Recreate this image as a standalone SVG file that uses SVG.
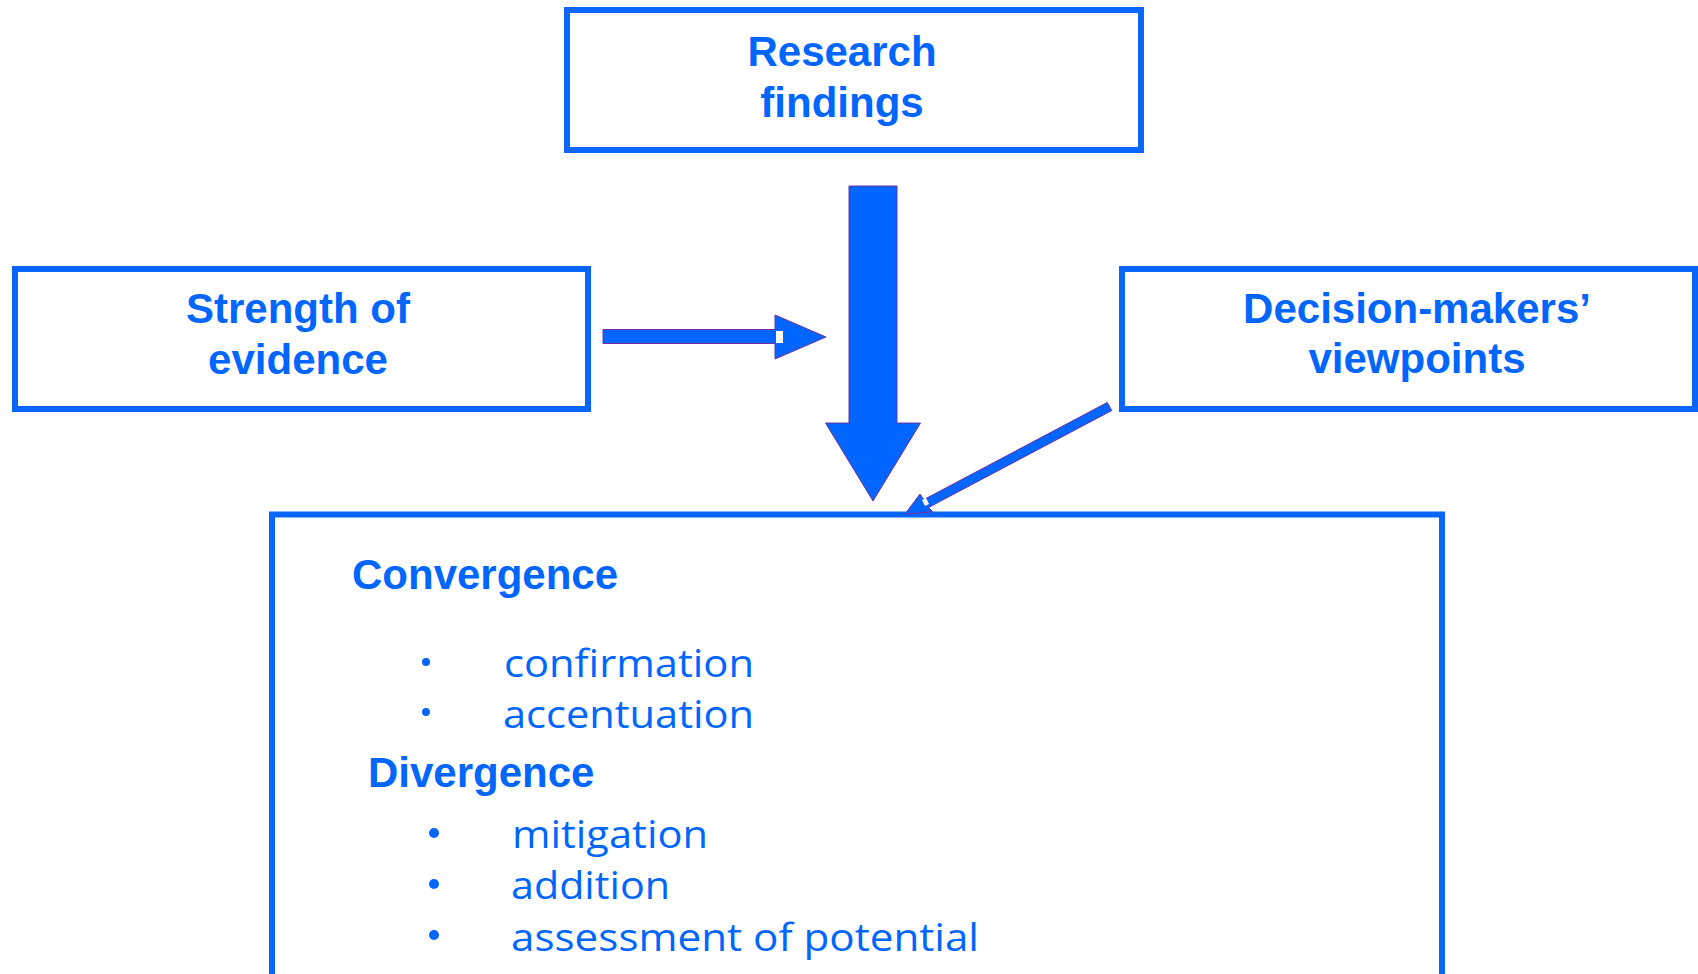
<svg xmlns="http://www.w3.org/2000/svg" width="1698" height="974" viewBox="0 0 1698 974">
<style>
.box{fill:none;stroke:#0A66FA;stroke-width:6}
.title{font-family:"Liberation Sans",Arial,sans-serif;font-weight:bold;font-size:42px;fill:#0066FF;text-anchor:middle}
.head{font-family:"Liberation Sans",Arial,sans-serif;font-weight:bold;font-size:42px;fill:#0066FF}
.item{font-family:"Comic Sans MS","Open Sans",sans-serif;font-size:38px;fill:#0066FF}
.arrow{fill:#0066FF;stroke:#7030A0;stroke-width:1}
.dot{fill:#0066FF}
</style>
<rect width="1698" height="974" fill="#FFFFFF"/>
<g id="node-research">
<rect class="box" x="567" y="10" width="574" height="140"/>
<text class="title" x="842" y="66">Research</text>
<text class="title" x="842" y="117">findings</text>
</g>
<g id="node-strength">
<rect class="box" x="15" y="269" width="573" height="140"/>
<text class="title" x="298" y="323">Strength of</text>
<text class="title" x="298" y="374">evidence</text>
</g>
<g id="node-decision">
<rect class="box" x="1122" y="269" width="573" height="140"/>
<text class="title" x="1417" y="323">Decision-makers’</text>
<text class="title" x="1417" y="373">viewpoints</text>
</g>
<g id="node-outcome">
<rect class="box" x="272" y="514.5" width="1170" height="480"/>
<text class="head" x="352" y="589">Convergence</text>
<circle class="dot" cx="426" cy="662" r="4"/>
<text class="item" x="504" y="677" textLength="250" lengthAdjust="spacingAndGlyphs">confirmation</text>
<circle class="dot" cx="426" cy="712" r="4"/>
<text class="item" x="503" y="728" textLength="251" lengthAdjust="spacingAndGlyphs">accentuation</text>
<text class="head" x="368" y="787">Divergence</text>
<circle class="dot" cx="434" cy="833" r="5"/>
<text class="item" x="512" y="848" textLength="196" lengthAdjust="spacingAndGlyphs">mitigation</text>
<circle class="dot" cx="434" cy="884" r="5"/>
<text class="item" x="511" y="899" textLength="159" lengthAdjust="spacingAndGlyphs">addition</text>
<circle class="dot" cx="434" cy="935" r="5"/>
<text class="item" x="511" y="951" textLength="468" lengthAdjust="spacingAndGlyphs">assessment of potential</text>
</g>
<g id="connectors">
<polygon class="arrow" points="849,186 897,186 897,423 920.5,423 873,501 825.5,423 849,423"/>
<polygon class="arrow" points="603,329.5 775,329.5 775,315 826,337 775,359 775,343.5 603,343.5" stroke="none"/>
<rect x="776" y="331" width="7" height="12" fill="#FFFFFF"/>
<polygon class="arrow" points="1107.2,402.5 1111.8,410.5 928.5,507.5 932.7,511.7 905,514 920,494 923.9,499.6"/>
<polygon points="922,500 926,498 929,504 925,506" fill="#FFFFFF"/>
</g>
</svg>
